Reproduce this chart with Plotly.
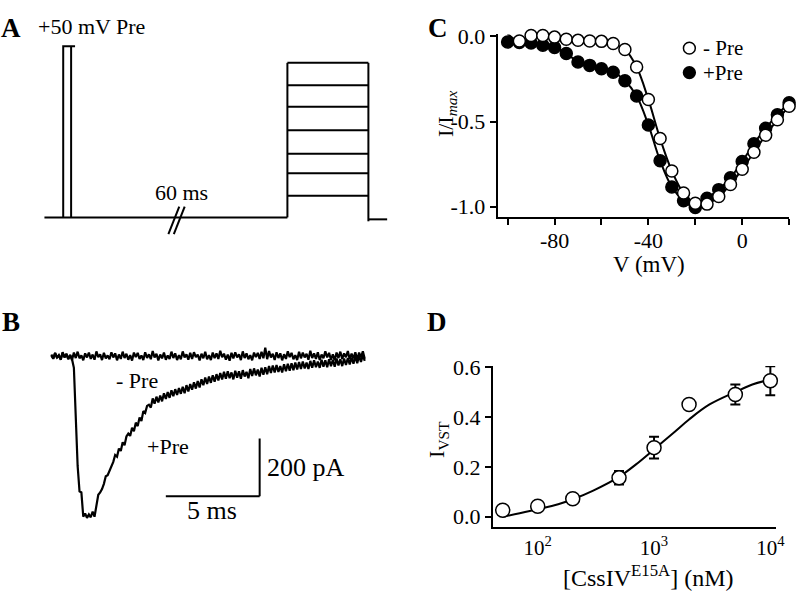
import numpy as np
import plotly.graph_objects as go

W, H = 809, 595
FONT = "Liberation Serif, Times New Roman, Times, serif"

# ---------------- Panel A: voltage protocol (arbitrary units) ----------------
prot_pre_level = 175
prot_pre_start, prot_pre_end, prot_pre_cap = 19, 27, 31
prot_break_t = 134
prot_test_start, prot_test_end, prot_end = 246, 328, 347
prot_test_levels = [22, 45, 65, 89, 113, 135, 158]
prot_tail_level = -2
prot_tail_drop = -4

# ---------------- Panel B: current traces (ms, pA) ----------------
trace_dt = 0.1
trace_minus_pre = [
    6, -9, 12, -4, 3, -12, 14, -3, 9, -10,
    4, -13, 13, -6, 16, -7, 3, -14, 10, -4,
    13, -9, 6, -12, 17, -3, 7, -13, 12, -7,
    3, -10, 14, -4, 10, -14, 6, -9, 16, -6,
    9, -12, 4, -15, 13, -3, 12, -9, 3, -13,
    14, -6, 7, -10, 18, -4, 9, -14, 6, -7,
    13, -12, 3, -9, 16, -6, 10, -13, 4, -10,
    17, -4, 7, -12, 12, -9, 14, -3, 6, -14,
    9, -7, 16, -10, 4, -13, 13, -6, 10, -9,
    19, -3, 9, -12, 6, -15, 12, -7, 14, -4,
    7, -13, 17, -6, 10, -10, 4, -14, 13, -3,
    12, -9, 16, -7, 30, -10, 18, -4, 9, -13,
    14, -6, 10, -14, 7, -9, 17, -3, 12, -10,
    4, -13, 16, -7, 13, -4, 9, -12, 19, -6,
    10, -9, 14, -13, 6, -7, 17, -4, 12, -12,
    7, -14, 13, -6, 16, -9, 10, -3, 18, -10,
    9, -7, 14, -12, 13, -4, 17, -9,
]
trace_plus_pre = [
    2, -7, 11, -5, 4, -10, 12, -4, 7, -9, 5, -10,
    -40, -200, -380, -468, -472, -556, -545, -560, -548, -558,
    -538, -556, -510, -480, -472, -460, -442, -416, -412, -396,
    -382, -366, -342, -348, -320, -328, -298, -308, -278, -268,
    -276, -248, -260, -230, -242, -212, -224, -190,
    -196, -172, -168, -178, -146, -164, -140, -160, -136, -156,
    -128, -148, -124, -144, -118, -138, -114, -134, -110, -130,
    -106, -128, -100, -122, -96, -116, -90, -112, -86, -108,
    -80, -100, -74, -96, -70, -92, -66, -88, -62, -84,
    -58, -80, -54, -78, -52, -76, -56, -80, -50, -74,
    -52, -78, -48, -70, -54, -76, -44, -68, -42, -66,
    -46, -70, -40, -64, -38, -62, -34, -58, -32, -56,
    -30, -54, -34, -56, -28, -52, -26, -50, -24, -48,
    -22, -46, -20, -44, -18, -42, -22, -44, -16, -40,
    -14, -38, -18, -40, -12, -36, -14, -38, -10, -34,
    -12, -36, -8, -32, -10, -34, -8, -30, -6, -28,
    -4, -26, 0, -24, 2, -20, 4, -16,
]
scalebar_t_end = 11.1
scalebar_I_bottom = -485
scalebar_dt = 5
scalebar_dI = 200

# ---------------- Panel C: I-V relationship ----------------
iv_voltage = [-100, -95, -90, -85, -80, -75, -70, -65, -60, -55, -50, -45, -40,
              -35, -30, -25, -20, -15, -10, -5, 0, 5, 10, 15, 20]
iv_minus_pre = [0.015, -0.027, 0.006, 0.006, -0.004, -0.017, -0.023, -0.027, -0.029,
                -0.042, -0.077, -0.18, -0.37, -0.60, -0.79, -0.92, -0.98, -0.985,
                -0.94, -0.87, -0.78, -0.68, -0.58, -0.49, -0.41]
iv_plus_pre = [-0.033, -0.035, -0.038, -0.052, -0.065, -0.10, -0.15, -0.17, -0.19,
               -0.21, -0.26, -0.35, -0.52, -0.73, -0.885, -0.965, -1.005, -0.95,
               -0.90, -0.83, -0.735, -0.63, -0.54, -0.46, -0.39]
iv_labels = ["- Pre", "+Pre"]

# ---------------- Panel D: dose response ----------------
dr_conc = [50, 100, 200, 500, 1000, 2000, 5000, 10000]
dr_ivst = [0.026, 0.042, 0.072, 0.156, 0.277, 0.45, 0.49, 0.545]
dr_err = [0.008, 0.008, 0.008, 0.027, 0.044, 0.0, 0.04, 0.058]
dr_fit_conc = [50, 70, 100, 150, 200, 300, 500, 700, 1000, 1500, 2000, 3000, 5000, 7000, 10000]
dr_fit_ivst = [0.0, 0.014, 0.03, 0.05, 0.07, 0.105, 0.16, 0.21, 0.27, 0.34, 0.39, 0.45, 0.50, 0.53, 0.55]


def px(x):
    return x / W


def py(y):
    return 1 - y / H


fig = go.Figure()
LINE = dict(color="black", width=2)

# ---- Panel A traces ----
ax, ay = [], []
ax += [0, prot_test_start, None]; ay += [0, 0, None]
ax += [prot_pre_start, prot_pre_start, prot_pre_cap, None]
ay += [0, prot_pre_level, prot_pre_level, None]
ax += [prot_pre_end, prot_pre_end, None]; ay += [prot_pre_level, 0, None]
ax += [prot_test_start, prot_test_start, None]; ay += [0, max(prot_test_levels), None]
for lv in prot_test_levels:
    ax += [prot_test_start, prot_test_end, None]; ay += [lv, lv, None]
ax += [prot_test_end, prot_test_end, None]; ay += [max(prot_test_levels), prot_tail_drop, None]
ax += [prot_test_end, prot_end]; ay += [prot_tail_level, prot_tail_level]
fig.add_trace(go.Scatter(x=ax, y=ay, mode="lines", line=LINE, xaxis="x", yaxis="y",
                         showlegend=False, hoverinfo="skip"))
for off in (0, 5.5):
    fig.add_shape(type="line", xref="x", yref="y",
                  x0=prot_break_t - 8.5 + off, y0=-17, x1=prot_break_t + 2.5 + off, y1=11,
                  line=LINE)

# ---- Panel B traces ----
t_minus = np.round(np.arange(len(trace_minus_pre)) * trace_dt, 2)
t_plus = np.round(np.arange(len(trace_plus_pre)) * trace_dt, 2)
BLINE = dict(color="black", width=2.2)
fig.add_trace(go.Scatter(x=t_plus, y=trace_plus_pre, mode="lines", line=BLINE,
                         xaxis="x2", yaxis="y2", showlegend=False, hoverinfo="skip"))
fig.add_trace(go.Scatter(x=t_minus, y=trace_minus_pre, mode="lines", line=BLINE,
                         xaxis="x2", yaxis="y2", showlegend=False, hoverinfo="skip"))
fig.add_shape(type="line", xref="x2", yref="y2",
              x0=scalebar_t_end - scalebar_dt, y0=scalebar_I_bottom,
              x1=scalebar_t_end, y1=scalebar_I_bottom, line=LINE)
fig.add_shape(type="line", xref="x2", yref="y2",
              x0=scalebar_t_end, y0=scalebar_I_bottom,
              x1=scalebar_t_end, y1=scalebar_I_bottom + scalebar_dI, line=LINE)

# ---- Panel C traces ----
fig.add_trace(go.Scatter(x=iv_voltage, y=iv_plus_pre, mode="lines",
                         line=dict(color="black", width=2, shape="spline"), cliponaxis=False,
                         xaxis="x3", yaxis="y3", showlegend=False, hoverinfo="skip"))
fig.add_trace(go.Scatter(x=iv_voltage, y=iv_minus_pre, mode="lines",
                         line=dict(color="black", width=2, shape="spline"), cliponaxis=False,
                         xaxis="x3", yaxis="y3", showlegend=False, hoverinfo="skip"))
fig.add_trace(go.Scatter(x=iv_voltage, y=iv_plus_pre, mode="markers", name=iv_labels[1],
                         marker=dict(symbol="circle", size=12, color="black",
                                     line=dict(color="black", width=1.5)),
                         cliponaxis=False, xaxis="x3", yaxis="y3", showlegend=False))
fig.add_trace(go.Scatter(x=iv_voltage, y=iv_minus_pre, mode="markers", name=iv_labels[0],
                         marker=dict(symbol="circle", size=12, color="white",
                                     line=dict(color="black", width=1.5)),
                         cliponaxis=False, xaxis="x3", yaxis="y3", showlegend=False))

# ---- Panel D traces ----
fig.add_trace(go.Scatter(x=dr_fit_conc, y=dr_fit_ivst, mode="lines",
                         line=dict(color="black", width=2, shape="spline"), cliponaxis=False,
                         xaxis="x4", yaxis="y4", showlegend=False, hoverinfo="skip"))
fig.add_trace(go.Scatter(x=dr_conc, y=dr_ivst, mode="markers",
                         error_y=dict(type="data", array=dr_err, color="black", thickness=2, width=5),
                         marker=dict(symbol="circle", size=14, color="white",
                                     line=dict(color="black", width=1.5)),
                         cliponaxis=False, xaxis="x4", yaxis="y4", showlegend=False))

hidden = dict(visible=False, showgrid=False, zeroline=False, fixedrange=True)
TICKF = dict(family=FONT, size=22, color="black")
axis_common = dict(showline=True, linecolor="black", linewidth=2, ticks="outside",
                   ticklen=6, tickwidth=2, tickcolor="black", showgrid=False,
                   zeroline=False, tickfont=TICKF, mirror=False)

fig.update_layout(
    width=W, height=H, autosize=False,
    margin=dict(l=0, r=0, t=0, b=0),
    paper_bgcolor="white", plot_bgcolor="rgba(0,0,0,0)",
    font=dict(family=FONT, size=22, color="black"),
    showlegend=False,
    xaxis=dict(domain=[0, px(400)], range=[-45, 355], **hidden),
    yaxis=dict(domain=[py(230), 1], range=[-19, 211], **hidden),
    xaxis2=dict(domain=[px(40), px(400)], range=[-0.632, 18.316], **hidden),
    yaxis2=dict(domain=[py(540), py(330)], range=[-634, 78], **hidden),
    xaxis3=dict(domain=[px(504), px(799)], range=[-104.2, 20],
                tickvals=[-80, -40, 0], ticktext=["-80", "-40", "0"],
                minor=dict(tickvals=[-100, -60, -20, 20], ticks="outside", ticklen=6,
                           tickwidth=2, tickcolor="black", showgrid=False),
                ticklabelstandoff=-4,
                anchor="y3", **axis_common),
    yaxis3=dict(domain=[py(211), py(24)], range=[-1.063, 0.0115],
                tickvals=[0, -0.5, -1.0], ticktext=["0.0", "-0.5", "-1.0"],
                anchor="x3", **axis_common),
    xaxis4=dict(domain=[px(499), px(785.3)], type="log", range=[1.614, 4.045],
                tickvals=[100, 1000, 10000],
                ticktext=["10<sup>2</sup>", "10<sup>3</sup>", "10<sup>4</sup>"],
                ticklabelstandoff=-6,
                anchor="y4", **{**axis_common, "tickcolor": "rgba(0,0,0,0)",
                                "tickfont": dict(family=FONT, size=21, color="black")}),
    yaxis4=dict(domain=[py(528), py(363)], range=[-0.0431, 0.604],
                tickvals=[0, 0.2, 0.4, 0.6], ticktext=["0.0", "0.2", "0.4", "0.6"],
                anchor="x4", **axis_common),
)


def ann(text, x, y, size=22, xanchor="center", yanchor="middle", angle=0, bold=False):
    fig.add_annotation(text=f"<b>{text}</b>" if bold else text, x=px(x), y=py(y),
                       xref="paper", yref="paper", showarrow=False,
                       xanchor=xanchor, yanchor=yanchor, textangle=angle, borderpad=0,
                       font=dict(family=FONT, size=size, color="black"))


# legend keys for panel C (drawn as shapes beside real text)
for (cy, fill), label in zip([(38, "white"), (63, "black")], iv_labels):
    fig.add_shape(type="circle", xref="paper", yref="paper",
                  x0=px(692), x1=px(704), y0=py(cy + 6), y1=py(cy - 6),
                  fillcolor=fill, line=dict(color="black", width=1.5))
    ann(label, 711, cy, size=21, xanchor="left")

# panel letters
ann("A", 11, 17, size=27, bold=True)
ann("B", 11, 318, size=27, bold=True)
ann("C", 443, 17, size=27, bold=True)
ann("D", 442, 318, size=27, bold=True)

# panel A text
ann("+50 mV Pre", 37, 16, xanchor="left")
ann("60 ms", 184, 186)

# panel B text
ann("- Pre", 139, 378)
ann("+Pre", 170, 445)
ann("200 pA", 269, 467, size=26, xanchor="left")
ann("5 ms", 215, 511, size=26)

# panel C titles
ann("I/I<sub><i>max</i></sub>", 452, 105, angle=-90)
ann("V (mV)", 657, 259, size=23)

# panel D titles
ann("I<sub>VST</sub>", 444, 438, angle=-90)
ann("[CssIV<sup>E15A</sup>] (nM)", 657, 594, size=24, yanchor="bottom")

fig.write_html("out.html", config={"displayModeBar": False},
               post_script="document.body.style.margin='0';document.body.style.padding='0';")
